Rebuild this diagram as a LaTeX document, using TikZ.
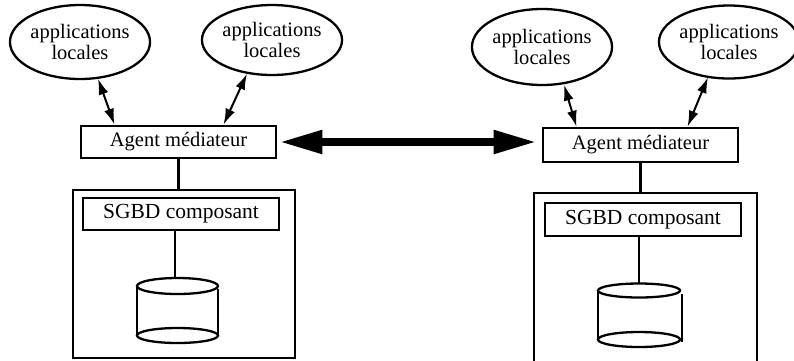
\documentclass[tikz,border=0pt]{standalone}
\usepackage{fontspec}
\setmainfont{Liberation Serif}
\usetikzlibrary{shapes.geometric,arrows.meta}

\tikzset{
  appli/.style={ellipse, draw, line width=2.3pt, inner sep=0pt, align=center,
    font=\fontsize{20.5}{21}\selectfont},
  agentbox/.style={rectangle, draw, line width=2.6pt, inner sep=0pt,
    minimum width=195pt, font=\fontsize{20.5}{22}\selectfont},
  sgbdbox/.style={rectangle, draw, line width=2.6pt, inner sep=0pt,
    minimum width=196pt, font=\fontsize{21.5}{23}\selectfont},
  sitebox/.style={rectangle, draw, line width=2.3pt, inner sep=0pt},
  link/.style={line width=2.3pt},
  duplex/.style={line width=2pt, {Latex[length=16pt,width=10pt]}-{Latex[length=16pt,width=10pt]}},
  bigduplex/.style={line width=8pt, {Triangle[length=43pt,width=22pt]}-{Triangle[length=43pt,width=22pt]}},
  disk/.style={line width=2.3pt}
}

\begin{document}
\begin{tikzpicture}[x=1pt,y=-1pt]
\useasboundingbox (0,0) rectangle (794,360);

% ---- left site ----
\node[appli, minimum width=136pt, minimum height=74pt] (e1) at (80,42) {applications\\locales};
\node[appli, minimum width=138pt, minimum height=70pt] (e2) at (272,40) {applications\\locales};
\node[agentbox, minimum height=32pt] (ag1) at (178.5,142) {Agent médiateur};
\node[sitebox, minimum width=222pt, minimum height=168pt] (ob1) at (184,274) {};
\node[sgbdbox, minimum height=32pt] (s1) at (181,214) {SGBD composant};

% ---- right site ----
\node[appli, minimum width=136pt, minimum height=76pt] (e3) at (542,47) {applications\\locales};
\node[appli, minimum width=128pt, minimum height=73pt] (e4) at (729,42) {applications\\locales};
\node[agentbox, minimum height=34pt] (ag2) at (640.5,145) {Agent médiateur};
\begin{scope}
  \clip (0,0) rectangle (794,360);
  \node[sitebox, minimum width=223pt, minimum height=170pt] (ob2) at (645.5,278) {};
\end{scope}
\node[sgbdbox, minimum height=33pt] (s2) at (643,219.5) {SGBD composant};

% ---- databases ----
\coordinate (c1) at (177.5,278);
\coordinate (c2) at (639,283.5);
\draw[disk] (177.5,286) ellipse [x radius=40.5, y radius=8];
\draw[disk] (177.5,335.5) ellipse [x radius=40.5, y radius=7.5];
\draw[disk] (137,286) -- (137,335.5) (218,289) -- (218,336);
\draw[disk] (639,290.5) ellipse [x radius=41, y radius=7];
\draw[disk] (639,339.5) ellipse [x radius=41, y radius=7.5];
\draw[disk] (598,290.5) -- (598,339.5) (682,294) -- (682,342);

% ---- vertical links ----
\draw[link] (ag1.south) -- (ag1.south |- ob1.north);
\draw[link] ([xshift=-6pt]s1.south) -- ([xshift=-6pt]s1.south |- c1);
\draw[link] (ag2.south) -- (ag2.south |- ob2.north);
\draw[link] ([xshift=-4pt]s2.south) -- ([xshift=-4pt]s2.south |- c2);

% ---- local applications <-> agents ----
\draw[duplex] ([xshift=18pt,yshift=1.5pt]e1.south) -- ([xshift=-64pt]ag1.north);
\draw[duplex] ([xshift=-25pt,yshift=2.5pt]e2.south) -- ([xshift=45pt]ag1.north);
\draw[duplex] ([xshift=22pt,yshift=1.5pt]e3.south) -- ([xshift=-64pt]ag2.north);
\draw[duplex] ([xshift=-21pt,yshift=2.5pt]e4.south) -- ([xshift=47pt]ag2.north);

% ---- agent <-> agent ----
\draw[bigduplex, shorten <=2pt, shorten >=5pt] (ag1.east) -- (ag1.east -| ag2.west);
\end{tikzpicture}
\end{document}
